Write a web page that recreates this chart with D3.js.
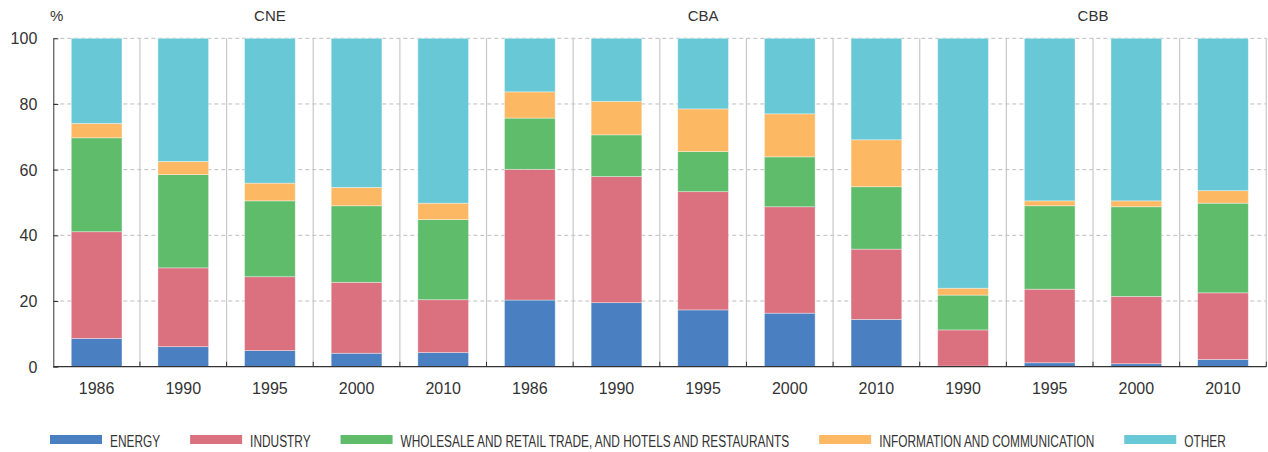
<!DOCTYPE html>
<html>
<head>
<meta charset="utf-8">
<script src="https://cdn.jsdelivr.net/npm/d3@7"></script>
<style>
  body { margin: 0; background: #fff; }
  svg text { font-family: "Liberation Sans", Arial, sans-serif; fill: #333; }
</style>
</head>
<body>
<div class="canvas"></div>
<script>
// categories
const groups = ["CNE", "CNE", "CNE", "CNE", "CNE", "CBA", "CBA", "CBA", "CBA", "CBA", "CBB", "CBB", "CBB", "CBB"];
const years = ["1986", "1990", "1995", "2000", "2010", "1986", "1990", "1995", "2000", "2010", "1990", "1995", "2000", "2010"];

// series (% of total)
const energy = [8.6, 6.1, 4.9, 4.1, 4.3, 20.3, 19.5, 17.3, 16.3, 14.4, 0.2, 1.2, 0.9, 2.2];
const industry = [32.5, 24.0, 22.5, 21.6, 16.1, 39.8, 38.4, 36.0, 32.4, 21.4, 11.0, 22.4, 20.5, 20.3];
const wholesale = [28.6, 28.4, 23.1, 23.3, 24.4, 15.6, 12.7, 12.2, 15.2, 19.0, 10.6, 25.4, 27.3, 27.3];
const infoComm = [4.4, 4.0, 5.4, 5.6, 5.0, 8.0, 10.2, 13.0, 13.1, 14.3, 2.1, 1.5, 1.8, 3.8];
const other = [25.9, 37.5, 44.1, 45.4, 50.2, 16.3, 19.2, 21.5, 23.0, 30.9, 76.1, 49.5, 49.5, 46.4];

const seriesNames = ["ENERGY", "INDUSTRY", "WHOLESALE AND RETAIL TRADE, AND HOTELS AND RESTAURANTS", "INFORMATION AND COMMUNICATION", "OTHER"];
const yTicks = [0, 20, 40, 60, 80, 100];

const colors = ["#4a7fc1", "#db707f", "#5fbc6b", "#fdb864", "#68c8d5"];

const dims = { width: 1268, height: 452 };
const plot = { left: 53.3, right: 1266.3, top: 38.3, bottom: 366.7 };

const svg = d3
  .select(".canvas")
  .append("svg")
  .attr("width", dims.width)
  .attr("height", dims.height);

const keys = ["energy", "industry", "wholesale", "infoComm", "other"];
const table = years.map((y, i) => ({
  idx: i,
  energy: energy[i],
  industry: industry[i],
  wholesale: wholesale[i],
  infoComm: infoComm[i],
  other: other[i],
}));

const x = d3
  .scaleBand()
  .domain(d3.range(years.length))
  .range([plot.left, plot.right])
  .paddingInner(0.415)
  .paddingOuter(0.2075);

const y = d3.scaleLinear().domain([0, 100]).range([plot.bottom, plot.top]);

const step = x.step();

// gridlines
svg
  .append("g")
  .selectAll("line")
  .data(yTicks.filter((t) => t > 0))
  .join("line")
  .attr("x1", plot.left)
  .attr("x2", plot.right)
  .attr("y1", (d) => y(d))
  .attr("y2", (d) => y(d))
  .attr("stroke", "#bdbdbd")
  .attr("stroke-dasharray", "4,3");

// category separators
svg
  .append("g")
  .selectAll("line")
  .data(d3.range(1, years.length + 1))
  .join("line")
  .attr("x1", (i) => plot.left + i * step)
  .attr("x2", (i) => plot.left + i * step)
  .attr("y1", y(100))
  .attr("y2", y(0))
  .attr("stroke", "#c8c8c8")
  .attr("stroke-width", 1.2);

// bars
const stacked = d3.stack().keys(keys)(table);

svg
  .append("g")
  .selectAll("g")
  .data(stacked)
  .join("g")
  .attr("fill", (d, i) => colors[i])
  .selectAll("rect")
  .data((d) => d)
  .join("rect")
  .attr("x", (d) => x(d.data.idx))
  .attr("width", x.bandwidth())
  .attr("y", (d) => y(d[1]))
  .attr("height", (d) => y(d[0]) - y(d[1]))
  .attr("stroke", "rgba(255,255,255,0.45)")
  .attr("stroke-width", 0.8);

// axes
const yAxis = d3
  .axisLeft(y)
  .tickValues(yTicks)
  .tickSizeInner(-5)
  .tickSizeOuter(0)
  .tickPadding(16);

const yG = svg
  .append("g")
  .attr("transform", `translate(${plot.left},0)`)
  .call(yAxis);
yG.select(".domain").attr("stroke", "#333");
yG.selectAll(".tick line").attr("stroke", "#333");
yG.selectAll("text")
  .style("font-size", "16px")
  .attr("fill", "#222")
  .attr("dy", "0.35em");

const xG = svg.append("g");
xG.append("line")
  .attr("x1", plot.left)
  .attr("x2", plot.right)
  .attr("y1", y(0))
  .attr("y2", y(0))
  .attr("stroke", "#333")
  .attr("stroke-width", 1.2);
xG.selectAll("line.tk")
  .data(d3.range(1, years.length + 1))
  .join("line")
  .attr("class", "tk")
  .attr("x1", (i) => plot.left + i * step)
  .attr("x2", (i) => plot.left + i * step)
  .attr("y1", y(0))
  .attr("y2", y(0) - 5)
  .attr("stroke", "#333");
xG.selectAll("text")
  .data(years)
  .join("text")
  .attr("x", (d, i) => x(i) + x.bandwidth() / 2)
  .attr("y", 394)
  .attr("text-anchor", "middle")
  .style("font-size", "16px")
  .attr("fill", "#222")
  .text((d) => d);

// group headers
const groupNames = Array.from(new Set(groups));
svg
  .append("g")
  .selectAll("text")
  .data(groupNames)
  .join("text")
  .attr("x", (g) => {
    const idx = d3.range(groups.length).filter((i) => groups[i] === g);
    return plot.left + ((d3.min(idx) + d3.max(idx) + 1) / 2) * step;
  })
  .attr("y", 21)
  .attr("text-anchor", "middle")
  .style("font-size", "15px")
  .attr("fill", "#444")
  .text((d) => d);

svg
  .append("text")
  .attr("x", 50)
  .attr("y", 21)
  .style("font-size", "15px")
  .attr("fill", "#444")
  .text("%");

//legend (condensed look: squeeze the text horizontally)
const squeeze = 0.72;
const legendGroup = svg.append("g").attr("transform", "translate(50, 0)");
let lx = 0;
seriesNames.forEach((name, i) => {
  legendGroup
    .append("rect")
    .attr("x", lx)
    .attr("y", 435)
    .attr("width", 52)
    .attr("height", 9)
    .attr("fill", colors[i]);
  const t = legendGroup
    .append("g")
    .attr("transform", `translate(${lx + 60}, 446.5) scale(${squeeze}, 1)`)
    .append("text")
    .style("font-size", "16.5px")
    .attr("fill", "#444")
    .text(name);
  const w = t.node().getComputedTextLength() * squeeze;
  lx += 60 + w + 30;
});
</script>
</body>
</html>
